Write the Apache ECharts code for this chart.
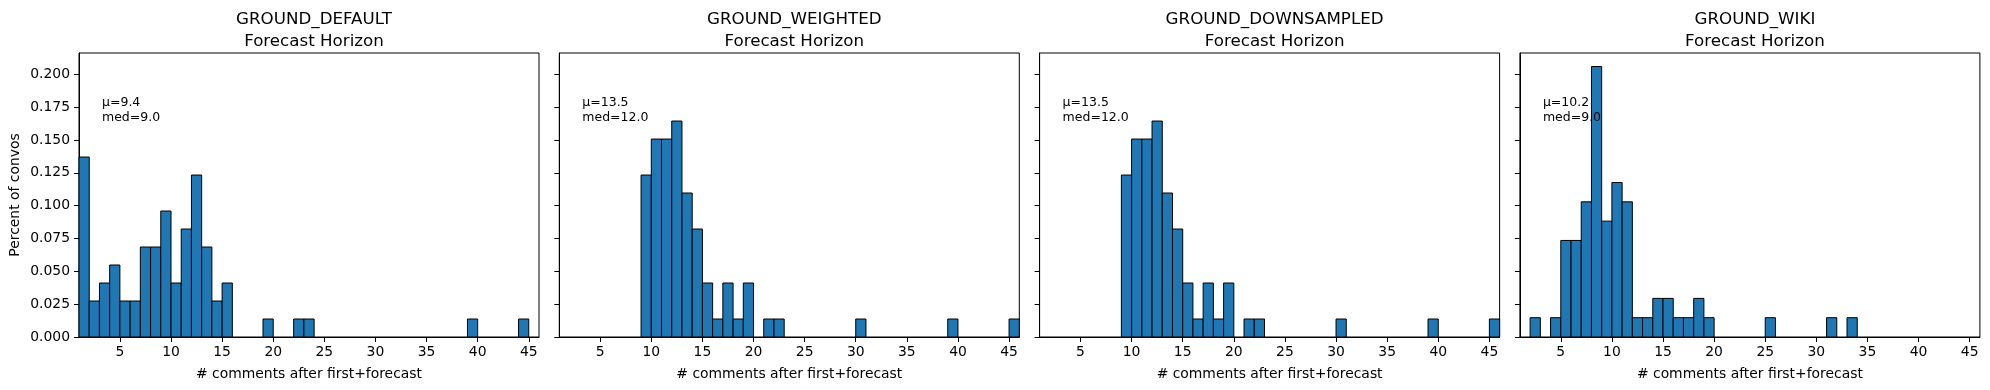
<!DOCTYPE html>
<html>
<head>
<meta charset="utf-8">
<script src="https://cdn.jsdelivr.net/npm/echarts@6/dist/echarts.min.js"></script>
<style>
html,body{margin:0;padding:0;background:#fff;}
#chart{width:1990px;height:390px;}
</style>
</head>
<body>
<div id="chart"></div>
<script>
// ---- data ----
const panelTitles = ['GROUND_DEFAULT', 'GROUND_WEIGHTED', 'GROUND_DOWNSAMPLED', 'GROUND_WIKI'];
const subTitle = 'Forecast Horizon';
const statsText = [['μ=9.4', 'med=9.0'], ['μ=13.5', 'med=12.0'], ['μ=13.5', 'med=12.0'], ['μ=10.2', 'med=9.0']];

const binWidth = 1;
const defaultBins = [1, 2, 3, 4, 5, 6, 7, 8, 9, 10, 11, 12, 13, 14, 15, 19, 22, 23, 39, 44];
const defaultVals = [0.1370, 0.0274, 0.0411, 0.0548, 0.0274, 0.0274, 0.0685, 0.0685, 0.0959, 0.0411, 0.0822, 0.1233, 0.0685, 0.0274, 0.0411, 0.0137, 0.0137, 0.0137, 0.0137, 0.0137];

const weightedBins = [9, 10, 11, 12, 13, 14, 15, 16, 17, 18, 19, 21, 22, 30, 39, 45];
const weightedVals = [0.1233, 0.1507, 0.1507, 0.1644, 0.1096, 0.0822, 0.0411, 0.0137, 0.0411, 0.0137, 0.0411, 0.0137, 0.0137, 0.0137, 0.0137, 0.0137];

const downsampledBins = [9, 10, 11, 12, 13, 14, 15, 16, 17, 18, 19, 21, 22, 30, 39, 45];
const downsampledVals = [0.1233, 0.1507, 0.1507, 0.1644, 0.1096, 0.0822, 0.0411, 0.0137, 0.0411, 0.0137, 0.0411, 0.0137, 0.0137, 0.0137, 0.0137, 0.0137];

const wikiBins = [2, 4, 5, 6, 7, 8, 9, 10, 11, 12, 13, 14, 15, 16, 17, 18, 19, 25, 31, 33];
const wikiVals = [0.0147, 0.0147, 0.0735, 0.0735, 0.1029, 0.2059, 0.0882, 0.1176, 0.1029, 0.0147, 0.0147, 0.0294, 0.0294, 0.0147, 0.0147, 0.0294, 0.0147, 0.0147, 0.0147, 0.0147];

const xTicks = [5, 10, 15, 20, 25, 30, 35, 40, 45];
const yTicks = [0, 0.025, 0.05, 0.075, 0.1, 0.125, 0.15, 0.175, 0.2];
const xMin = 1, xMax = 46;
const yMin = 0, yMax = 0.2162;
const xLabelText = '# comments after first+forecast';
const yLabelText = 'Percent of convos';

// ---- layout ----
const FONT = 'DejaVu Sans';
const gridLeft0 = 79, gridStep = 480.3, gridW = 460, gridTop = 53, gridH = 284;
const panels = [
  [defaultBins, defaultVals],
  [weightedBins, weightedVals],
  [downsampledBins, downsampledVals],
  [wikiBins, wikiVals]
];

const grids = [], xAxes = [], yAxes = [], series = [], titles = [], graphics = [];
panels.forEach((p, i) => {
  const left = gridLeft0 + i * gridStep;
  grids.push({left: left, top: gridTop, width: gridW, height: gridH, show: true, borderColor: '#000', borderWidth: 1, backgroundColor: 'transparent'});
  xAxes.push({
    type: 'value', gridIndex: i, min: xMin, max: xMax,
    axisLine: {show: true, onZero: false, lineStyle: {color: '#000', width: 1}},
    axisTick: {show: true, length: 5, lineStyle: {color: '#000'}, customValues: xTicks},
    axisLabel: {show: true, color: '#000', fontSize: 13.9, fontFamily: FONT, margin: 8, customValues: xTicks},
    splitLine: {show: false},
    name: xLabelText, nameLocation: 'middle', nameGap: 30,
    nameTextStyle: {color: '#000', fontSize: 13.9, fontFamily: FONT}
  });
  yAxes.push({
    type: 'value', gridIndex: i, min: yMin, max: yMax,
    axisLine: {show: true, onZero: false, lineStyle: {color: '#000', width: 1}},
    axisTick: {show: true, length: 5, lineStyle: {color: '#000'}, customValues: yTicks},
    axisLabel: {show: i === 0, color: '#000', fontSize: 13.9, fontFamily: FONT, margin: 9, customValues: yTicks,
      formatter: v => v.toFixed(3)},
    splitLine: {show: false},
    name: i === 0 ? yLabelText : '', nameLocation: 'middle', nameGap: 57, nameRotate: 90,
    nameTextStyle: {color: '#000', fontSize: 13.9, fontFamily: FONT}
  });
  series.push({
    type: 'custom', xAxisIndex: i, yAxisIndex: i, z: 2,
    data: p[0].map((b, k) => [b, p[1][k]]),
    renderItem: function (params, api) {
      const x0 = api.value(0), h = api.value(1);
      const a = api.coord([x0, h]);
      const b = api.coord([x0 + binWidth, 0]);
      return {type: 'rect', shape: {x: a[0], y: a[1], width: b[0] - a[0], height: b[1] - a[1]},
        style: {fill: '#1f77b4', stroke: '#000', lineWidth: 1}};
    },
    silent: true, animation: false
  });
  titles.push({
    text: panelTitles[i] + '\n' + subTitle,
    left: left + gridW / 2, top: 4, textAlign: 'center',
    textStyle: {color: '#000', fontSize: 16.7, fontWeight: 'normal', fontFamily: FONT, lineHeight: 22}
  });
  graphics.push({
    type: 'text', left: left + 0.05 * gridW, top: 95, z: 100, zlevel: 1,
    style: {text: statsText[i].join('\n'), fill: '#000', fontSize: 12.5, fontFamily: FONT, lineHeight: 15}
  });
});

const chart = echarts.init(document.getElementById('chart'), null, {renderer: 'canvas'});
chart.setOption({
  backgroundColor: '#fff',
  animation: false,
  title: titles,
  grid: grids,
  xAxis: xAxes,
  yAxis: yAxes,
  series: series,
  graphic: graphics
});
</script>
</body>
</html>
